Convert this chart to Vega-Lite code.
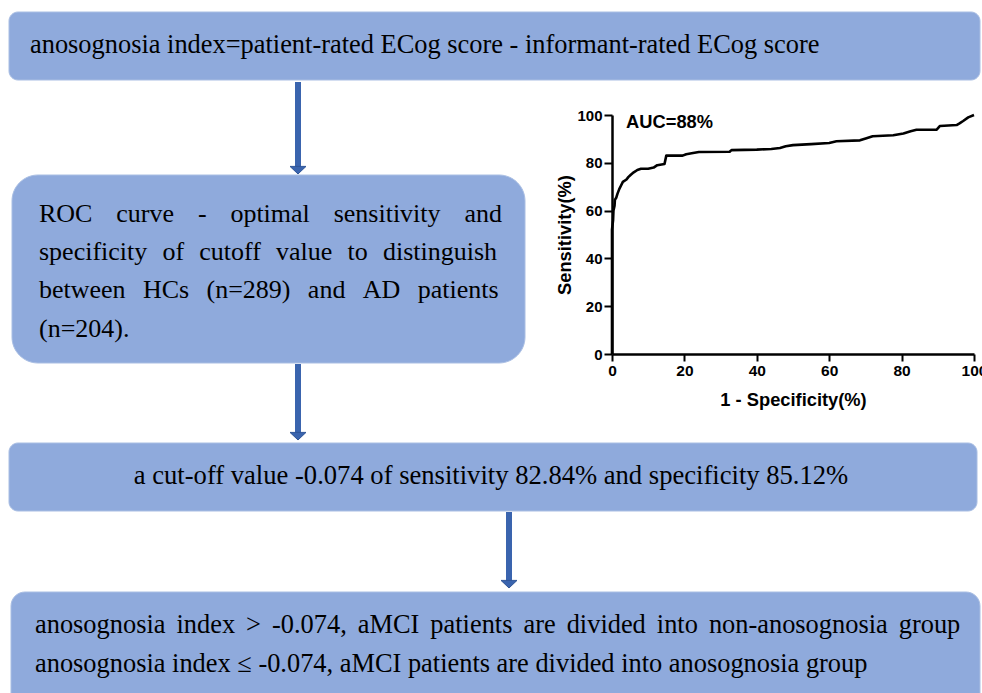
{
  "$schema": "https://vega.github.io/schema/vega-lite/v6.json",
  "width": 982,
  "height": 693,
  "padding": 0,
  "autosize": {"type": "none"},
  "background": "white",
  "config": {"view": {"stroke": null}},
  "datasets": {
    "boxes": [
      {"node": "formula", "x": 9, "x2": 980, "y": 12, "y2": 80},
      {"node": "roc", "x": 12, "x2": 525, "y": 175, "y2": 363},
      {"node": "cutoff", "x": 9, "x2": 977, "y": 443, "y2": 511},
      {"node": "groups", "x": 11, "x2": 980, "y": 592, "y2": 715}
    ],
    "lines": [
      {"node": "formula", "x": 30, "y": 53, "line": "anosognosia index=patient-rated ECog score - informant-rated ECog score"},
      {"node": "groups", "x": 35, "y": 633, "line": "anosognosia\u00a0\u200a\u200aindex\u00a0\u200a\u200a>\u00a0\u200a\u200a-0.074,\u00a0\u200a\u200aaMCI\u00a0\u200a\u200apatients\u00a0\u200a\u200aare\u00a0\u200a\u200adivided\u00a0\u200a\u200ainto\u00a0\u200a\u200anon-anosognosia\u00a0\u200a\u200agroup"},
      {"node": "groups", "x": 35, "y": 672, "line": "anosognosia index \u2264 -0.074, aMCI patients are divided into anosognosia group"}
    ],
    "method": [
      {"node": "roc", "x": 39, "y": 222, "line": "ROC\u00a0\u00a0\u00a0\u200a\u200acurve\u00a0\u00a0\u00a0\u200a\u200a-\u00a0\u00a0\u00a0\u200a\u200aoptimal\u00a0\u00a0\u00a0\u200a\u200asensitivity\u00a0\u00a0\u00a0\u200a\u200aand"},
      {"node": "roc", "x": 39, "y": 260, "line": "specificity\u00a0\u00a0\u200aof\u00a0\u00a0\u200acutoff\u00a0\u00a0\u200avalue\u00a0\u00a0\u200ato\u00a0\u00a0\u200adistinguish"},
      {"node": "roc", "x": 39, "y": 298, "line": "between\u00a0\u00a0\u200a\u200aHCs\u00a0\u00a0\u200a\u200a(n=289)\u00a0\u00a0\u200a\u200aand\u00a0\u00a0\u200a\u200aAD\u00a0\u00a0\u200a\u200apatients"},
      {"node": "roc", "x": 39, "y": 337, "line": "(n=204)."}
    ],
    "centered": [
      {"node": "cutoff", "x": 491, "y": 484, "line": "a cut-off value -0.074 of sensitivity 82.84% and specificity 85.12%"}
    ],
    "arrows": [
      {"from": "formula", "to": "roc", "x": 298, "y": 82, "y2": 174},
      {"from": "roc", "to": "cutoff", "x": 298, "y": 364, "y2": 440},
      {"from": "cutoff", "to": "groups", "x": 509, "y": 512, "y2": 588}
    ],
    "curve": [
      {"k": 0, "fpr": 0, "tpr": 0},
      {"k": 1, "fpr": 0, "tpr": 52},
      {"k": 2, "fpr": 0.3, "tpr": 56},
      {"k": 3, "fpr": 0.4, "tpr": 60},
      {"k": 4, "fpr": 0.7, "tpr": 62},
      {"k": 5, "fpr": 0.8, "tpr": 64.5},
      {"k": 6, "fpr": 1.2, "tpr": 65.5},
      {"k": 7, "fpr": 1.5, "tpr": 67},
      {"k": 8, "fpr": 2, "tpr": 69},
      {"k": 9, "fpr": 2.5, "tpr": 70.5},
      {"k": 10, "fpr": 3, "tpr": 72},
      {"k": 11, "fpr": 4, "tpr": 73},
      {"k": 12, "fpr": 4.5, "tpr": 74},
      {"k": 13, "fpr": 5.2, "tpr": 75},
      {"k": 14, "fpr": 6, "tpr": 76},
      {"k": 15, "fpr": 7, "tpr": 77},
      {"k": 16, "fpr": 8, "tpr": 77.5},
      {"k": 17, "fpr": 10, "tpr": 77.5},
      {"k": 18, "fpr": 11.5, "tpr": 78},
      {"k": 19, "fpr": 12.5, "tpr": 79},
      {"k": 20, "fpr": 14.5, "tpr": 79.5},
      {"k": 21, "fpr": 15, "tpr": 83},
      {"k": 22, "fpr": 19.5, "tpr": 83},
      {"k": 23, "fpr": 20.5, "tpr": 83.6},
      {"k": 24, "fpr": 22, "tpr": 84},
      {"k": 25, "fpr": 24, "tpr": 84.5},
      {"k": 26, "fpr": 32.5, "tpr": 84.6},
      {"k": 27, "fpr": 33, "tpr": 85.3},
      {"k": 28, "fpr": 40, "tpr": 85.5},
      {"k": 29, "fpr": 44, "tpr": 85.8},
      {"k": 30, "fpr": 46.4, "tpr": 86.2},
      {"k": 31, "fpr": 48, "tpr": 86.9},
      {"k": 32, "fpr": 50, "tpr": 87.4},
      {"k": 33, "fpr": 55, "tpr": 87.8},
      {"k": 34, "fpr": 60, "tpr": 88.3},
      {"k": 35, "fpr": 62, "tpr": 89},
      {"k": 36, "fpr": 68.5, "tpr": 89.4},
      {"k": 37, "fpr": 70.3, "tpr": 90.3},
      {"k": 38, "fpr": 72, "tpr": 91.1},
      {"k": 39, "fpr": 77.7, "tpr": 91.5},
      {"k": 40, "fpr": 80.5, "tpr": 92.3},
      {"k": 41, "fpr": 82.5, "tpr": 93.2},
      {"k": 42, "fpr": 84.1, "tpr": 93.8},
      {"k": 43, "fpr": 89.7, "tpr": 93.9},
      {"k": 44, "fpr": 90.6, "tpr": 95.4},
      {"k": 45, "fpr": 95.2, "tpr": 95.8},
      {"k": 46, "fpr": 96, "tpr": 96.5},
      {"k": 47, "fpr": 97, "tpr": 97.5},
      {"k": 48, "fpr": 98.4, "tpr": 99},
      {"k": 49, "fpr": 100, "tpr": 100}
    ],
    "auc": [
      {"label": "AUC=88%", "fpr": 3.9, "tpr": 94.6}
    ]
  },
  "layer": [
    {
      "layer": [
        {
          "data": {"name": "boxes"},
          "transform": [{"filter": "datum.node == 'formula' || datum.node == 'cutoff'"}],
          "mark": {"type": "rect", "cornerRadius": 9, "fill": "#8FAADC", "stroke": "#A9BEE3", "strokeWidth": 1},
          "encoding": {
            "x": {"field": "x", "type": "quantitative", "scale": {"domain": [0, 982], "nice": false, "zero": false}, "axis": null},
            "x2": {"field": "x2"},
            "y": {"field": "y", "type": "quantitative", "scale": {"domain": [0, 693], "reverse": true, "nice": false, "zero": false}, "axis": null},
            "y2": {"field": "y2"}
          }
        },
        {
          "data": {"name": "boxes"},
          "transform": [{"filter": "datum.node == 'roc'"}],
          "mark": {"type": "rect", "cornerRadius": 26, "fill": "#8FAADC", "stroke": "#A9BEE3", "strokeWidth": 1},
          "encoding": {
            "x": {"field": "x", "type": "quantitative", "scale": {"domain": [0, 982], "nice": false, "zero": false}, "axis": null},
            "x2": {"field": "x2"},
            "y": {"field": "y", "type": "quantitative", "scale": {"domain": [0, 693], "reverse": true, "nice": false, "zero": false}, "axis": null},
            "y2": {"field": "y2"}
          }
        },
        {
          "data": {"name": "boxes"},
          "transform": [{"filter": "datum.node == 'groups'"}],
          "mark": {"type": "rect", "cornerRadius": 14, "fill": "#8FAADC", "stroke": "#A9BEE3", "strokeWidth": 1},
          "encoding": {
            "x": {"field": "x", "type": "quantitative", "scale": {"domain": [0, 982], "nice": false, "zero": false}, "axis": null},
            "x2": {"field": "x2"},
            "y": {"field": "y", "type": "quantitative", "scale": {"domain": [0, 693], "reverse": true, "nice": false, "zero": false}, "axis": null},
            "y2": {"field": "y2"}
          }
        },
        {
          "data": {"name": "arrows"},
          "mark": {"type": "rule", "stroke": "#3A64AE", "strokeWidth": 6, "strokeCap": "butt", "y2Offset": -6},
          "encoding": {
            "x": {"field": "x", "type": "quantitative", "scale": {"domain": [0, 982], "nice": false, "zero": false}, "axis": null},
            "y": {"field": "y", "type": "quantitative", "scale": {"domain": [0, 693], "reverse": true, "nice": false, "zero": false}, "axis": null},
            "y2": {"field": "y2"}
          }
        },
        {
          "data": {"name": "arrows"},
          "mark": {"type": "point", "shape": "M-1,-0.45L1,-0.45L0,0.5Z", "size": 256, "filled": true, "fill": "#3A64AE", "stroke": "#2F5597", "strokeWidth": 1, "opacity": 1, "yOffset": -4},
          "encoding": {
            "x": {"field": "x", "type": "quantitative", "scale": {"domain": [0, 982], "nice": false, "zero": false}, "axis": null},
            "y": {"field": "y2", "type": "quantitative", "scale": {"domain": [0, 693], "reverse": true, "nice": false, "zero": false}, "axis": null}
          }
        },
        {
          "data": {"name": "lines"},
          "mark": {"type": "text", "align": "left", "baseline": "alphabetic", "font": "Liberation Serif, Times New Roman, serif", "fontSize": 26.4, "color": "black"},
          "encoding": {
            "x": {"field": "x", "type": "quantitative", "scale": {"domain": [0, 982], "nice": false, "zero": false}, "axis": null},
            "y": {"field": "y", "type": "quantitative", "scale": {"domain": [0, 693], "reverse": true, "nice": false, "zero": false}, "axis": null},
            "text": {"field": "line"}
          }
        },
        {
          "data": {"name": "method"},
          "mark": {"type": "text", "align": "left", "baseline": "alphabetic", "font": "Liberation Serif, Times New Roman, serif", "fontSize": 26, "color": "black"},
          "encoding": {
            "x": {"field": "x", "type": "quantitative", "scale": {"domain": [0, 982], "nice": false, "zero": false}, "axis": null},
            "y": {"field": "y", "type": "quantitative", "scale": {"domain": [0, 693], "reverse": true, "nice": false, "zero": false}, "axis": null},
            "text": {"field": "line"}
          }
        },
        {
          "data": {"name": "centered"},
          "mark": {"type": "text", "align": "center", "baseline": "alphabetic", "font": "Liberation Serif, Times New Roman, serif", "fontSize": 26.6, "color": "black"},
          "encoding": {
            "x": {"field": "x", "type": "quantitative", "scale": {"domain": [0, 982], "nice": false, "zero": false}, "axis": null},
            "y": {"field": "y", "type": "quantitative", "scale": {"domain": [0, 693], "reverse": true, "nice": false, "zero": false}, "axis": null},
            "text": {"field": "line"}
          }
        }
      ]
    },
    {
      "layer": [
        {
          "data": {"name": "curve"},
          "mark": {"type": "line", "stroke": "black", "strokeWidth": 2.6, "strokeJoin": "round"},
          "encoding": {
            "x": {
              "field": "fpr", "type": "quantitative",
              "scale": {"domain": [0, 100], "range": [612, 974], "nice": false, "zero": false},
              "axis": {
                "orient": "bottom", "offset": -339, "values": [0, 20, 40, 60, 80, 100],
                "grid": false, "domainColor": "black", "domainWidth": 2.5,
                "tickColor": "black", "tickWidth": 2, "tickSize": 7,
                "labelFont": "Liberation Sans, Arial, sans-serif", "labelFontWeight": "bold", "labelFontSize": 15.5,
                "labelColor": "black", "labelPadding": 2, "labelFlush": false, "labelOverlap": false,
                "title": "1 - Specificity(%)", "titleFont": "Liberation Sans, Arial, sans-serif", "titleFontWeight": "bold",
                "titleFontSize": 18.3, "titleColor": "black", "titlePadding": 13
              }
            },
            "y": {
              "field": "tpr", "type": "quantitative",
              "scale": {"domain": [0, 100], "range": [354, 115], "nice": false, "zero": false},
              "axis": {
                "orient": "left", "offset": -612, "values": [0, 20, 40, 60, 80, 100],
                "grid": false, "domainColor": "black", "domainWidth": 2.5,
                "tickColor": "black", "tickWidth": 2, "tickSize": 8,
                "labelFont": "Liberation Sans, Arial, sans-serif", "labelFontWeight": "bold", "labelFontSize": 15,
                "labelColor": "black", "labelPadding": 2, "labelFlush": false, "labelOverlap": false,
                "title": "Sensitivity(%)", "titleFont": "Liberation Sans, Arial, sans-serif", "titleFontWeight": "bold",
                "titleFontSize": 18.3, "titleColor": "black", "titlePadding": 2
              }
            },
            "order": {"field": "k", "type": "quantitative"}
          }
        },
        {
          "data": {"name": "auc"},
          "mark": {"type": "text", "align": "left", "baseline": "alphabetic", "font": "Liberation Sans, Arial, sans-serif", "fontWeight": "bold", "fontSize": 18.3, "color": "black"},
          "encoding": {
            "x": {"field": "fpr", "type": "quantitative"},
            "y": {"field": "tpr", "type": "quantitative"},
            "text": {"field": "label"}
          }
        }
      ]
    }
  ],
  "resolve": {"scale": {"x": "independent", "y": "independent"}}
}
